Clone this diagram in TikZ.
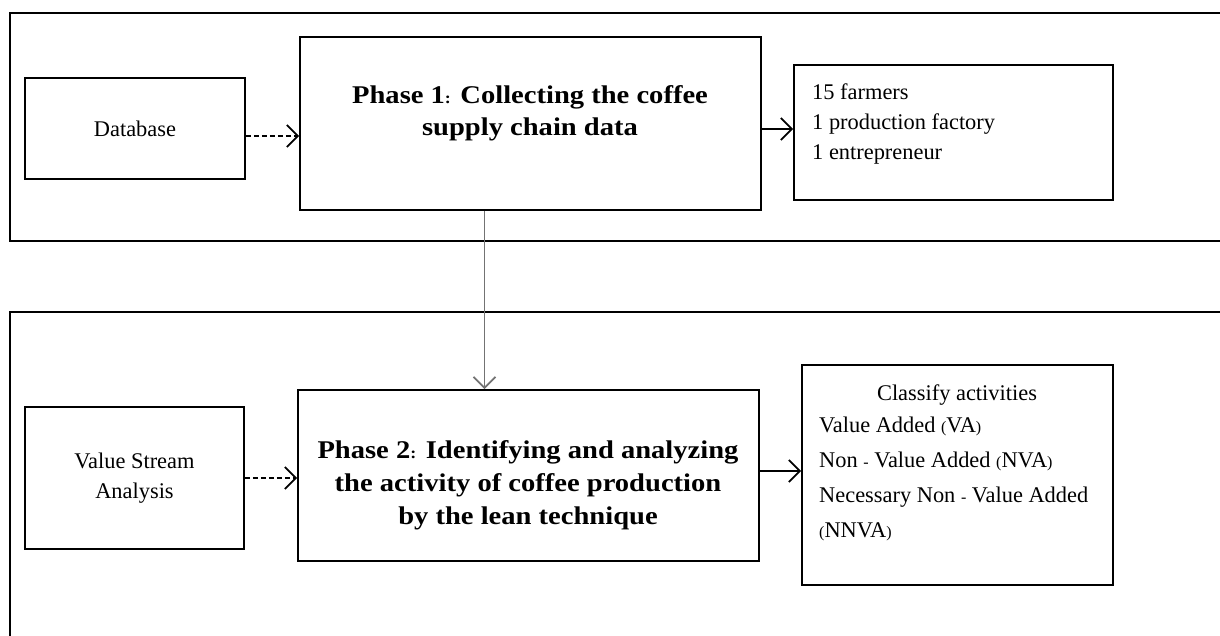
\documentclass[tikz,border=0pt]{standalone}
\usepackage{fontspec}
\setmainfont{Liberation Serif}
\newfontfamily\widefont[FakeStretch=1.12]{Liberation Serif}
\usetikzlibrary{arrows.meta}
\newcommand{\sm}[1]{{\fontsize{16}{16}\selectfont #1}}
\tikzset{
  frame/.style={line width=2.2pt},
  box/.style={draw, line width=1.6pt, inner sep=0pt},
  txt/.style={font=\fontsize{22.4}{30}\selectfont, inner sep=0pt},
  btxt/.style={font=\widefont\fontsize{25.5}{32}\selectfont\bfseries, inner sep=0pt, align=center},
  arr/.style={line width=1.9pt, -{Straight Barb[length=11pt,width=22pt,line width=1.9pt]}},
  darr/.style={arr, dash pattern=on 5pt off 3pt},
  garr/.style={arr, draw=gray!90!black, color=gray!90!black}
}
\begin{document}
\begin{tikzpicture}[x=1pt,y=-1pt]
\useasboundingbox (0,0) rectangle (1220,636);
% frames
\draw[frame] (1221,13) -- (10,13) -- (10,241) -- (1221,241);
\draw[frame] (1221,312) -- (10,312) -- (10,637);
% boxes
\node[box, txt, minimum width=220pt, minimum height=101pt] (db) at (135,128.5) {Database};
\node[box, minimum width=461pt, minimum height=173pt] (p1) at (530.5,123.5) {};
\node[box, minimum width=319pt, minimum height=135pt] (fa) at (953.5,132.5) {};
\node[box, txt, align=center, minimum width=219pt, minimum height=142pt] (vsa) at (134.5,478) {Value Stream\\Analysis};
\node[box, minimum width=461pt, minimum height=171pt] (p2) at (528.5,475.5) {};
\node[box, minimum width=311pt, minimum height=220pt] (cl) at (957.5,475) {};
% texts
\node[btxt] (p1t) at (530,113) {Phase 1\sm{:} Collecting the coffee\\supply chain data};
\node[btxt, font=\widefont\fontsize{25.5}{33}\selectfont\bfseries] (p2t) at (528,485) {Phase 2\sm{:} Identifying and analyzing\\the activity of coffee production\\by the lean technique};
\node[txt, align=left, anchor=north west] (fat) at (812,84) {15 farmers\\1 production factory\\1 entrepreneur};
\node[txt, anchor=base] (clt) at (957,400) {Classify activities};
\node[txt, align=left, anchor=north west, font=\fontsize{22.4}{35}\selectfont] (cll) at (819,417) {Value Added \sm{(}VA\sm{)}\\Non \sm{-} Value Added \sm{(}NVA\sm{)}\\Necessary Non \sm{-} Value Added\\\sm{(}NNVA\sm{)}};
% connectors
\draw[darr] ([yshift=-7.5pt]db.east) -- ([yshift=-7.5pt]db.east -| p1.west);
\draw[arr] ([yshift=-5.5pt]p1.east) -- ([yshift=-5.5pt]p1.east -| fa.west);
\draw[garr] ([xshift=-46pt]p1.south) -- ([xshift=-46pt]p1.south |- p2.north);
\draw[darr] (vsa.east) -- (vsa.east -| p2.west);
\draw[arr] ([yshift=4.5pt]p2.east) -- ([yshift=4.5pt]p2.east -| cl.west);
\end{tikzpicture}
\end{document}
